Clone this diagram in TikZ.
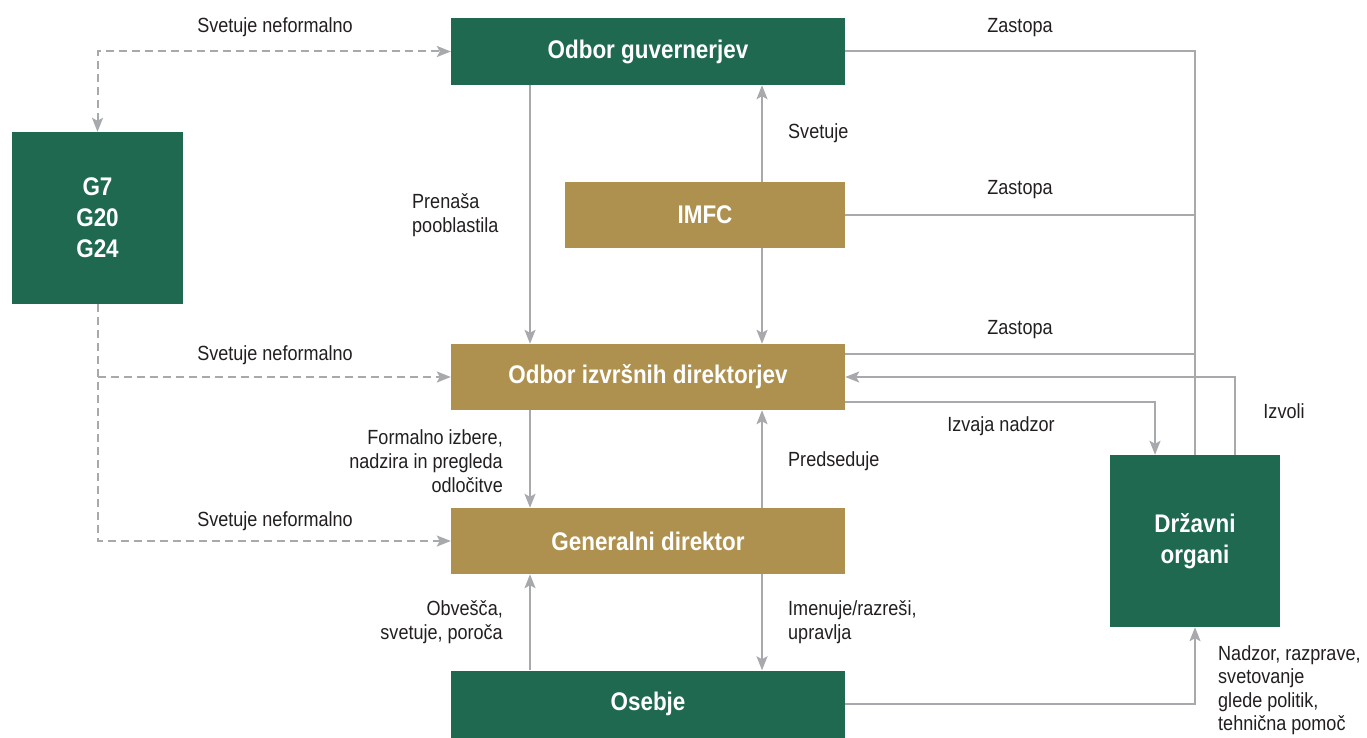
\documentclass[tikz,border=0pt]{standalone}
\usepackage{fontspec}
\setmainfont{Liberation Sans}[FakeStretch=0.88]
\usetikzlibrary{arrows.meta}
\definecolor{imfgreen}{RGB}{31,105,80}
\definecolor{imfgold}{RGB}{175,145,79}
\definecolor{lgrey}{RGB}{168,169,173}
\definecolor{txt}{RGB}{35,31,32}
\tikzset{
  box/.style={rectangle, inner sep=0pt, text=white, font=\fontsize{25.5}{31}\selectfont\bfseries, align=center},
  gbox/.style={box, fill=imfgreen},
  ybox/.style={box, fill=imfgold},
  conn/.style={draw=lgrey, line width=2pt},
  tip/.style={-{Stealth[length=14pt,width=11pt,inset=3pt]}},
  dconn/.style={conn, dash pattern=on 8pt off 5pt},
  lbl/.style={text=txt, font=\fontsize{20.5}{24}\selectfont, inner sep=0pt},
}
\begin{document}
\begin{tikzpicture}[x=1pt,y=-1pt]
\useasboundingbox (0,0) rectangle (1367,738);
% boxes
\node[gbox, minimum width=394pt, minimum height=67pt] (OG) at (648,51.5) {Odbor guvernerjev};
\node[gbox, minimum width=171pt, minimum height=172pt] (G7) at (97.5,218) {G7\\G20\\G24};
\node[ybox, minimum width=280pt, minimum height=66pt] (IMFC) at (705,215) {IMFC};
\node[ybox, minimum width=394pt, minimum height=66pt] (OID) at (648,377) {Odbor izvršnih direktorjev};
\node[ybox, minimum width=394pt, minimum height=66pt] (GD) at (648,541) {Generalni direktor};
\node[gbox, minimum width=394pt, minimum height=67pt] (OS) at (648,704) {Osebje};
\node[gbox, minimum width=170pt, minimum height=172pt] (DO) at (1195,541) {Državni\\organi};

% dashed informal advice
\draw[dconn, {Stealth[length=14pt,width=11pt,inset=3pt]}-{Stealth[length=14pt,width=11pt,inset=3pt]}] (G7.north) |- (OG.west);
\draw[dconn, tip] (G7.south) |- (GD.west);
\draw[dconn, tip] (G7.south |- OID.west) -- (OID.west);

% vertical connectors
\draw[conn, tip] ([xshift=-118pt]OG.south) -- ([xshift=-118pt]OID.north);
\draw[conn, tip] ([xshift=57pt]IMFC.north) -- ([xshift=114pt]OG.south);
\draw[conn, tip] ([xshift=57pt]IMFC.south) -- ([xshift=114pt]OID.north);
\draw[conn, tip] ([xshift=-118pt]OID.south) -- ([xshift=-118pt]GD.north);
\draw[conn, tip] ([xshift=114pt]GD.north) -- ([xshift=114pt]OID.south);
\draw[conn, tip] ([xshift=-118pt]OS.north) -- ([xshift=-118pt]GD.south);
\draw[conn, tip] ([xshift=114pt]GD.south) -- ([xshift=114pt]OS.north);

% representation lines
\draw[conn] (OG.east) -| (DO.north);
\draw[conn] (IMFC.east) -- (IMFC.east -| DO.north);
\draw[conn] ([yshift=23pt]OID.east) -- ([yshift=23pt]OID.east -| DO.north);
\draw[conn, tip] ([xshift=40pt]DO.north) |- (OID.east);
\draw[conn, tip] ([yshift=-25pt]OID.east) -| ([xshift=-40pt]DO.north);
\draw[conn, tip] (OS.east) -| (DO.south);

% labels
\node[lbl] (l1) at (275,27) {Svetuje neformalno};
\node[lbl] (l2) at (275,355) {Svetuje neformalno};
\node[lbl] (l3) at (275,521) {Svetuje neformalno};
\node[lbl] (z1) at (1020,28) {Zastopa};
\node[lbl] (z2) at (1020,190) {Zastopa};
\node[lbl] (z3) at (1020,330) {Zastopa};
\node[lbl, anchor=west] (sv) at (788,133) {Svetuje};
\node[lbl, anchor=west, align=left] (pp) at (412,215) {Prenaša\\pooblastila};
\node[lbl, anchor=east, align=right] (fi) at (503,461) {Formalno izbere,\\nadzira in pregleda\\odločitve};
\node[lbl, anchor=west] (pr) at (788,461) {Predseduje};
\node[lbl, anchor=east, align=right] (ob) at (503,622) {Obvešča,\\svetuje, poroča};
\node[lbl, anchor=west, align=left] (im) at (788,622) {Imenuje/razreši,\\upravlja};
\node[lbl] (iz) at (1001,426) {Izvaja nadzor};
\node[lbl] (iv) at (1284,411) {Izvoli};
\node[lbl, anchor=north west, align=left, font=\fontsize{20.5}{23.5}\selectfont] (nz) at (1218,645) {Nadzor, razprave,\\svetovanje\\glede politik,\\tehnična pomoč};
\end{tikzpicture}
\end{document}
